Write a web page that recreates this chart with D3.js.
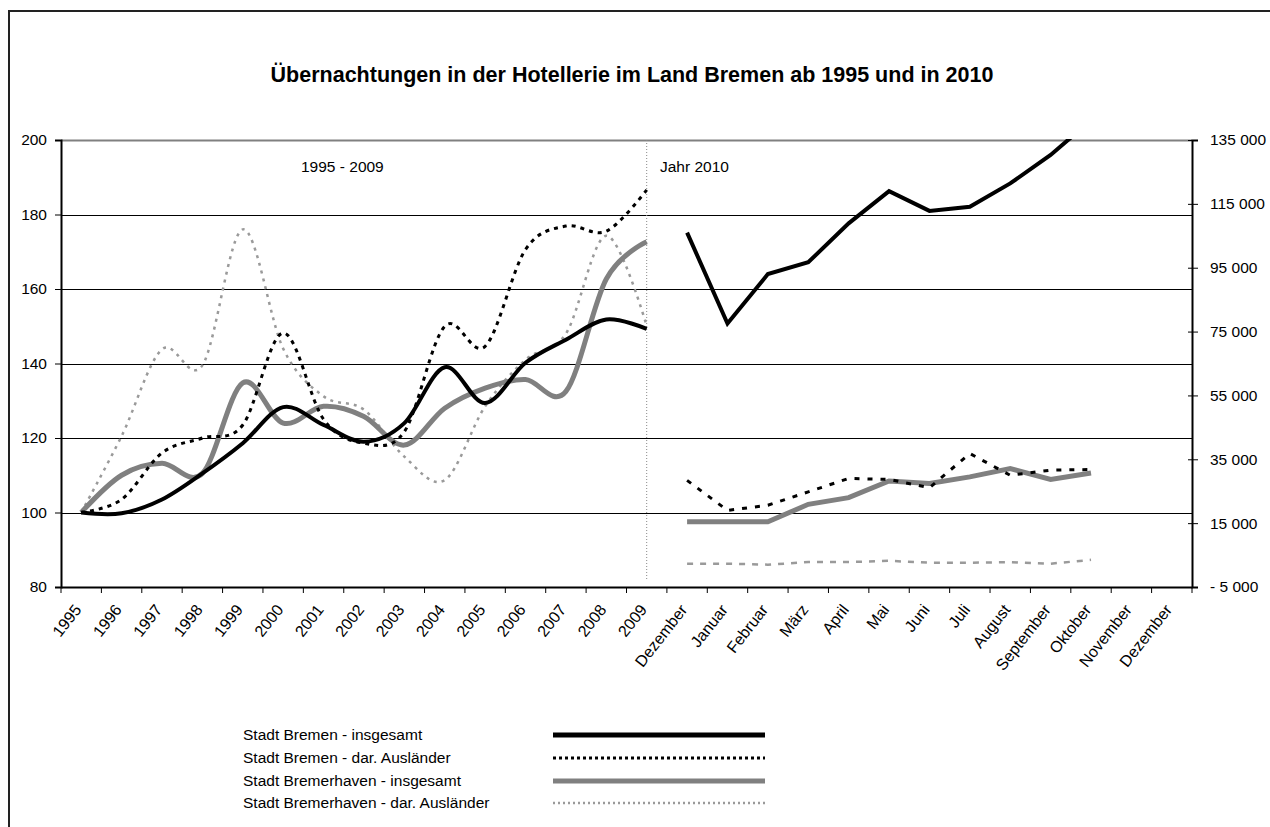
<!DOCTYPE html>
<html><head><meta charset="utf-8">
<script src="https://cdn.jsdelivr.net/npm/d3@7"></script>
<style>
html,body{margin:0;padding:0;background:#fff;}
text{font-family:"Liberation Sans",Arial,sans-serif;fill:#000;}
</style></head>
<body>
<svg id="chart" width="1270" height="827"></svg>
<script>
// ---------- data ----------
const title = "Übernachtungen in der Hotellerie im Land Bremen ab 1995 und in 2010";
const categories = ["1995","1996","1997","1998","1999","2000","2001","2002","2003","2004","2005","2006","2007","2008","2009",
  "Dezember","Januar","Februar","März","April","Mai","Juni","Juli","August","September","Oktober","November","Dezember"];
const leftTicks = [80,100,120,140,160,180,200];
const rightTicks = [-5000,15000,35000,55000,75000,95000,115000,135000];
const seriesNames = ["Stadt Bremen - insgesamt","Stadt Bremen - dar. Ausländer","Stadt Bremerhaven - insgesamt","Stadt Bremerhaven - dar. Ausländer"];
// index 1995 = 100 (categories 0..14)
const bremenTotalIdx   = [100, 99.8, 103.5, 110.5, 118.6, 128.3, 123.5, 119, 124, 139, 129.4, 140.2, 146.4, 151.8, 149.3];
const bremenForeignIdx = [100, 103.5, 116, 120, 123.5, 148.2, 125, 118.6, 121.7, 150, 144.6, 170.6, 176.9, 175.5, 186.6];
const bhvTotalIdx      = [100, 110, 113.2, 110.5, 134.8, 124, 128.5, 125.8, 118.1, 128, 133.4, 135.7, 132.5, 162.7, 172.7];
const bhvForeignIdx    = [100, 120.5, 143.8, 139.5, 176, 144, 131.2, 127.6, 115, 108.7, 128.5, 141, 148, 174.3, 150.1];
// monthly absolute values, Dezember 2009 .. Oktober 2010 (categories 15..25)
const bremenTotalMon   = [106000, 77500, 93000, 96700, 108900, 119000, 112800, 114100, 121400, 130300, 141200];
const bremenForeignMon = [28400, 19000, 20600, 24800, 29000, 28700, 26100, 36800, 30000, 31600, 31800];
const bhvTotalMon      = [15400, 15400, 15400, 20900, 23000, 28200, 27400, 29500, 32100, 28700, 30700];
const bhvForeignMon    = [2300, 2300, 2000, 2800, 2800, 3200, 2600, 2600, 2800, 2300, 3500];
const periodLabels = ["1995 - 2009","Jahr 2010"];

// ---------- layout ----------
const svg = d3.select("#chart");
const L = 61, R = 1192, T = 140, B = 587;
const x = d3.scaleBand().domain(d3.range(categories.length)).range([L, R]).padding(0);
const cx = i => x(i) + x.bandwidth()/2;
const yL = d3.scaleLinear().domain([80,200]).range([B,T]);
const yR = d3.scaleLinear().domain([-5000,135000]).range([B,T]);

// outer frame
svg.append("path").attr("d","M9,827 V11 H1270").attr("fill","none").attr("stroke","#222").attr("stroke-width",2);

// title
svg.append("text").attr("x",632).attr("y",82).attr("text-anchor","middle")
  .style("font-weight","bold").style("font-size","21.5px").text(title);

// gridlines
svg.append("g").selectAll("line").data(leftTicks.filter(d=>d>80)).join("line")
  .attr("x1",L).attr("x2",R).attr("y1",d=>Math.round(yL(d))+0.5).attr("y2",d=>Math.round(yL(d))+0.5)
  .attr("stroke",d=>d===200?"#808080":"#000").attr("stroke-width",d=>d===200?2:1);

// divider
svg.append("line").attr("x1",cx(14)).attr("x2",cx(14)).attr("y1",T).attr("y2",B-6)
  .attr("stroke","#888").attr("stroke-width",1).attr("stroke-dasharray","1,2");

// period labels
svg.append("text").attr("x",301).attr("y",172).style("font-size","15.5px").text(periodLabels[0]);
svg.append("text").attr("x",660).attr("y",172).style("font-size","15.5px").text(periodLabels[1]);

// left axis
const gl = svg.append("g").attr("transform",`translate(${L},0)`)
  .call(d3.axisLeft(yL).tickValues(leftTicks).tickSize(6).tickPadding(8));
gl.select(".domain").attr("stroke","#000").attr("stroke-width",2);
gl.selectAll("text").style("font-size","15.5px").style("font-family","Liberation Sans, Arial, sans-serif");

// right axis
const loc = d3.formatLocale({decimal:",",thousands:" ",grouping:[3],currency:["",""]});
const fmt = loc.format(",d");
const gr = svg.append("g").attr("transform",`translate(${R},0)`)
  .call(d3.axisRight(yR).tickValues(rightTicks).tickSize(6).tickPadding(12)
    .tickFormat(d => d<0 ? "- " + fmt(-d) : fmt(d)));
gr.select(".domain").attr("stroke","#000").attr("stroke-width",2);
gr.selectAll(".tick line").attr("x1",-4);
gr.selectAll("text").style("font-size","15.5px").style("font-family","Liberation Sans, Arial, sans-serif");

// bottom axis
const gb = svg.append("g").attr("transform",`translate(0,${B})`)
  .call(d3.axisBottom(x).tickSize(0).tickFormat(i=>categories[i]));
gb.select(".domain").attr("stroke","#000").attr("stroke-width",2);
gb.selectAll("text").style("font-size","16px").style("font-family","Liberation Sans, Arial, sans-serif")
  .attr("text-anchor","end").attr("dy",null).attr("y",0)
  .attr("transform",`translate(1,23) rotate(-52)`);
// boundary ticks
svg.append("g").selectAll("line").data(d3.range(categories.length+1)).join("line")
  .attr("x1",i=>L+i*x.step()).attr("x2",i=>L+i*x.step()).attr("y1",B).attr("y2",B+6)
  .attr("stroke","#000").attr("stroke-width",1);

// clip
svg.append("clipPath").attr("id","plotclip").append("rect").attr("x",L).attr("y",T-1).attr("width",R-L).attr("height",B-T+1);
const plot = svg.append("g").attr("clip-path","url(#plotclip)");

const styles = [
  {stroke:"#000", w:4, dashY:null, dashM:null},
  {stroke:"#000", w:3, dashY:"4,5", dashM:"5,8"},
  {stroke:"#808080", w:5, dashY:null, dashM:null},
  {stroke:"#9a9a9a", w:2.5, dashY:"3,5", dashM:"6,7"}
];
const yearly = [bremenTotalIdx, bremenForeignIdx, bhvTotalIdx, bhvForeignIdx];
const monthly = [bremenTotalMon, bremenForeignMon, bhvTotalMon, bhvForeignMon];

const lineY = d3.line().x((d,i)=>cx(i)).y(d=>yL(d)).curve(d3.curveCardinal.tension(0));
const lineM = d3.line().x((d,i)=>cx(i+15)).y(d=>yR(d));

const order = [3,2,1,0];
order.forEach(k=>{
  const s = styles[k];
  plot.append("path").attr("d",lineM(monthly[k])).attr("fill","none")
    .attr("stroke",s.stroke).attr("stroke-width",s.w).attr("stroke-dasharray",s.dashM);
});
order.forEach(k=>{
  const s = styles[k];
  plot.append("path").attr("d",lineY(yearly[k])).attr("fill","none")
    .attr("stroke",s.stroke).attr("stroke-width",s.w).attr("stroke-dasharray",s.dashY);
});

// legend
const lg = svg.append("g");
const legY = [735, 758, 781, 803];
seriesNames.forEach((n,k)=>{
  lg.append("text").attr("x",243).attr("y",legY[k]+5).style("font-size","15.5px").text(n);
  const s = styles[k];
  lg.append("line").attr("x1",553).attr("x2",765).attr("y1",legY[k]).attr("y2",legY[k])
    .attr("stroke",s.stroke).attr("stroke-width",k===3?2.5:(k===1?3:5))
    .attr("stroke-dasharray",k===1?"3,3":(k===3?"2,3":null));
});
</script>
</body></html>
